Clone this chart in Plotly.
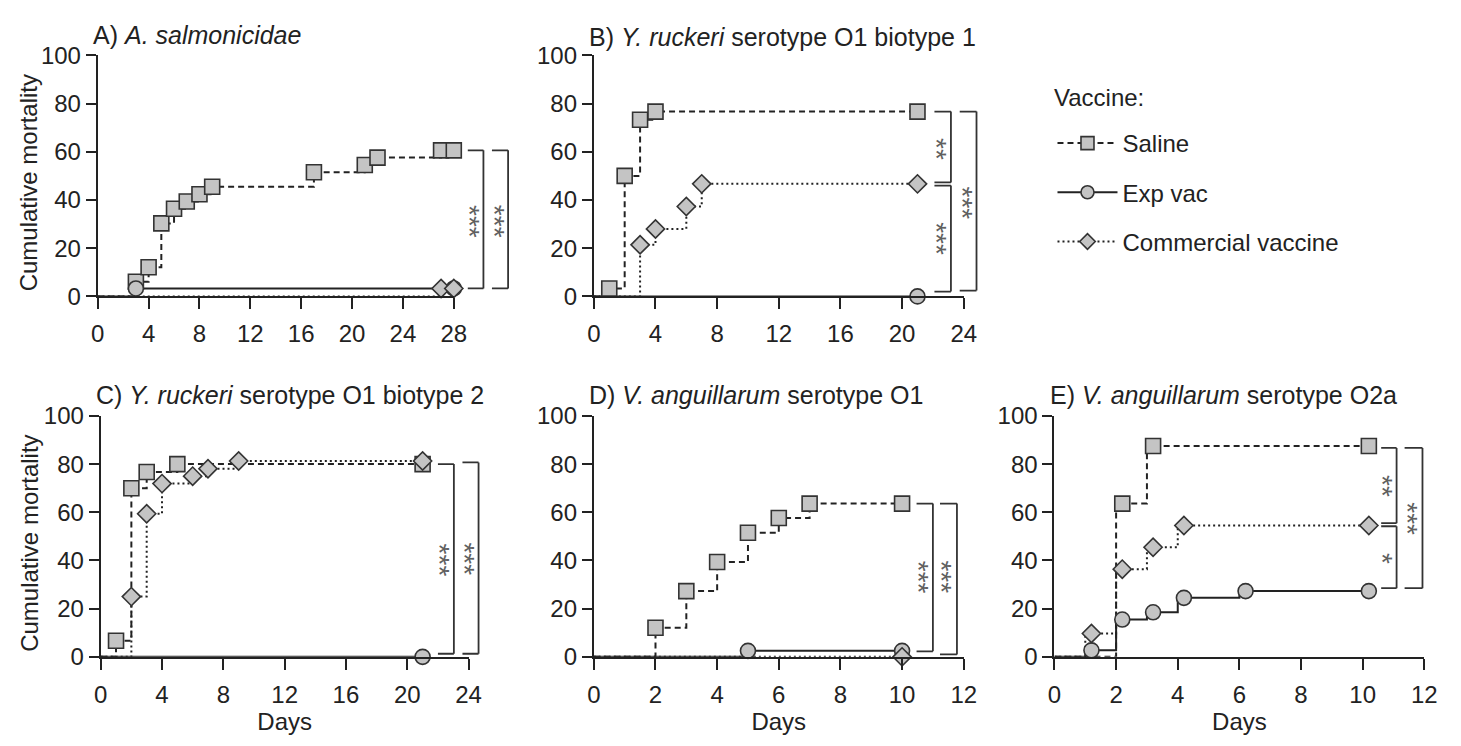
import plotly.graph_objects as go

W, H = 1461, 746
FONT = "Liberation Sans, Arial, sans-serif"
INK = "#222222"

# ---------------- data ----------------
# A) A. salmonicidae
a_saline_days = [3, 4, 5, 6, 7, 8, 9, 17, 21, 22, 27, 28]
a_saline_vals = [6.1, 12.1, 30.3, 36.4, 39.4, 42.4, 45.5, 51.5, 54.5, 57.6, 60.6, 60.6]
a_expvac_days = [3, 28]
a_expvac_vals = [3.3, 3.3]
a_comm_days = [27, 28]
a_comm_vals = [3.3, 3.3]

# B) Y. ruckeri serotype O1 biotype 1
b_saline_days = [1, 2, 3, 4, 21]
b_saline_vals = [3.3, 50.0, 73.3, 76.7, 76.7]
b_expvac_days = [21]
b_expvac_vals = [0]
b_comm_days = [3, 4, 6, 7, 21]
b_comm_vals = [21.4, 28.0, 37.3, 46.7, 46.7]

# C) Y. ruckeri serotype O1 biotype 2
c_saline_days = [1, 2, 3, 5, 21]
c_saline_vals = [6.7, 70.0, 76.7, 80.0, 80.0]
c_expvac_days = [21]
c_expvac_vals = [0]
c_comm_days = [2, 3, 4, 6, 7, 9, 21]
c_comm_vals = [25.0, 59.4, 71.9, 75.0, 78.1, 81.3, 81.3]

# D) V. anguillarum serotype O1
d_saline_days = [2, 3, 4, 5, 6, 7, 10]
d_saline_vals = [12.1, 27.3, 39.4, 51.5, 57.6, 63.6, 63.6]
d_expvac_days = [5, 10]
d_expvac_vals = [2.5, 2.5]
d_comm_days = [10]
d_comm_vals = [0]

# E) V. anguillarum serotype O2a
e_saline_days = [2, 3, 10]
e_saline_vals = [63.6, 87.5, 87.5]
e_expvac_days = [1, 2, 3, 4, 6, 10]
e_expvac_vals = [2.7, 15.5, 18.5, 24.5, 27.3, 27.3]
e_comm_days = [1, 2, 3, 4, 10]
e_comm_vals = [9.7, 36.4, 45.5, 54.5, 54.5]

y_ticks = [0, 20, 40, 60, 80, 100]
series_names = ["Saline", "Exp vac", "Commercial vaccine"]

# ---------------- styles ----------------
FILL = "#c4c4c4"
STYLE = {
    "Saline": dict(dash="6px,4px", symbol="square", size=15),
    "Exp vac": dict(dash="solid", symbol="circle", size=15),
    "Commercial vaccine": dict(dash="2px,3px", symbol="diamond", size=14),
}
STAR_SIZE = 28

def px_x(p):
    return p / W

def px_y(p):
    return 1 - p / H

panels = [
    dict(id="", title="A) <i>A. salmonicidae</i>", tx=85, ty=22,
         xdom=(92, 453), ydom=(43, 293), xmax=28, xstep=4, ylab=True, xlab=False, nudge=0,
         data=[(a_saline_days, a_saline_vals), (a_expvac_days, a_expvac_vals), (a_comm_days, a_comm_vals)],
         brackets=[(30.33, 29.1, 60.6, 3.3, "***", 29.7, 31),
                   (32.27, 31.0, 60.6, 3.3, "***", 31.6, 31)]),
    dict(id="2", title="B) <i>Y. ruckeri</i> serotype O1 biotype 1", tx=588, ty=24,
         xdom=(595, 970), ydom=(43, 293), xmax=24, xstep=4, ylab=False, xlab=False, nudge=0,
         data=[(b_saline_days, b_saline_vals), (b_expvac_days, b_expvac_vals), (b_comm_days, b_comm_vals)],
         brackets=[(23.17, 22.1, 76.7, 47.3, "**", 22.6, 61),
                   (23.17, 22.1, 46.0, 2.0, "***", 22.6, 24),
                   (24.83, 23.74, 76.7, 2.4, "***", 24.3, 38.7)]),
    dict(id="3", title="C) <i>Y. ruckeri</i> serotype O1 biotype 2", tx=88, ty=395,
         xdom=(95, 468), ydom=(417, 667), xmax=24, xstep=4, ylab=True, xlab=True, nudge=0,
         data=[(c_saline_days, c_saline_vals), (c_expvac_days, c_expvac_vals), (c_comm_days, c_comm_vals)],
         brackets=[(23.04, 22.0, 80.0, 1.3, "***", 22.5, 40),
                   (24.65, 23.6, 80.7, 1.3, "***", 24.1, 40.7)]),
    dict(id="4", title="D) <i>V. anguillarum</i> serotype O1", tx=588, ty=395,
         xdom=(595, 970), ydom=(417, 667), xmax=12, xstep=2, ylab=False, xlab=True, nudge=0,
         data=[(d_saline_days, d_saline_vals), (d_expvac_days, d_expvac_vals), (d_comm_days, d_comm_vals)],
         brackets=[(11.0, 10.47, 63.6, 2.3, "***", 10.72, 33),
                   (11.78, 11.23, 63.6, 1.0, "***", 11.48, 33)]),
    dict(id="5", title="E) <i>V. anguillarum</i> serotype O2a", tx=1055, ty=395,
         xdom=(1062, 1437), ydom=(417, 667), xmax=12, xstep=2, ylab=False, xlab=True, nudge=0.2,
         data=[(e_saline_days, e_saline_vals), (e_expvac_days, e_expvac_vals), (e_comm_days, e_comm_vals)],
         brackets=[(11.1, 10.6, 86.7, 55.5, "**", 10.85, 70.8),
                   (11.1, 10.6, 54.2, 28.5, "*", 10.85, 41),
                   (11.94, 11.36, 86.7, 28.5, "***", 11.65, 57.2)]),
]

fig = go.Figure()
layout = dict(
    width=W, height=H, margin=dict(l=0, r=0, t=0, b=0),
    paper_bgcolor="white", plot_bgcolor="white",
    font=dict(family=FONT, size=24, color=INK),
    showlegend=True,
)
shapes = []
annotations = []

for p in panels:
    xa = "x" + p["id"]
    ya = "y" + p["id"]
    xkey = "xaxis" + p["id"]
    ykey = "yaxis" + p["id"]
    layout[xkey] = dict(
        domain=[px_x(p["xdom"][0]), px_x(p["xdom"][1])],
        anchor=ya, range=[0, p["xmax"]],
        tickvals=list(range(0, p["xmax"] + 1, p["xstep"])),
        showline=True, linecolor=INK, linewidth=2,
        ticks="outside", ticklen=11, tickwidth=2, tickcolor=INK,
        showgrid=False, zeroline=False, fixedrange=True,
        tickfont=dict(size=24, color=INK), ticklabelstandoff=4,
    )
    layout[ykey] = dict(
        domain=[px_y(p["ydom"][1]), px_y(p["ydom"][0])],
        anchor=xa, range=[0, 100], tickvals=y_ticks,
        showline=True, linecolor=INK, linewidth=2,
        ticks="outside", ticklen=10, tickwidth=2, tickcolor=INK,
        showgrid=False, zeroline=False, fixedrange=True,
        tickfont=dict(size=24, color=INK),
    )
    if p["xlab"]:
        layout[xkey]["title"] = dict(text="Days", font=dict(size=24, color=INK), standoff=2)
    for name, (days, vals) in zip(series_names, p["data"]):
        st = STYLE[name]
        fig.add_trace(go.Scatter(
            x=[0] + list(days), y=[0] + list(vals), mode="lines", line_shape="hv",
            line=dict(color=INK, width=2, dash=st["dash"]),
            xaxis=xa, yaxis=ya, showlegend=False, hoverinfo="skip",
        ))
    for name, (days, vals) in zip(series_names, p["data"]):
        st = STYLE[name]
        fig.add_trace(go.Scatter(
            x=[d + p["nudge"] for d in days], y=vals, mode="markers",
            marker=dict(symbol=st["symbol"], size=st["size"], color=FILL,
                        line=dict(color="#333333", width=1.6)),
            xaxis=xa, yaxis=ya, showlegend=False, cliponaxis=False,
        ))
    # significance brackets
    for (xv, xarm, yt, yb, lab, lx, ly) in p["brackets"]:
        fx = lambda v: v / p["xmax"]
        for (x0, y0, x1, y1) in [(xarm, yt, xv, yt), (xv, yt, xv, yb), (xarm, yb, xv, yb)]:
            shapes.append(dict(type="line", xref=xa + " domain", yref=ya,
                               x0=fx(x0), y0=y0, x1=fx(x1), y1=y1,
                               line=dict(color="#333333", width=1.8)))
        annotations.append(dict(text=lab, xref=xa + " domain", yref=ya, x=fx(lx), y=ly,
                                showarrow=False, textangle=90, xshift=0.42 * STAR_SIZE,
                                font=dict(size=STAR_SIZE, color="#606060")))
    annotations.append(dict(text=p["title"], xref="paper", yref="paper",
                            x=px_x(p["tx"]), y=px_y(p["ty"]), xanchor="left", yanchor="middle",
                            showarrow=False, font=dict(size=25, color=INK)))
    if p["ylab"]:
        cy = (p["ydom"][0] + p["ydom"][1]) / 2 + 7
        annotations.append(dict(text="Cumulative mortality", xref="paper", yref="paper",
                                x=px_x(22), y=px_y(cy), xanchor="center", yanchor="middle",
                                textangle=-90, showarrow=False, font=dict(size=24, color=INK)))

# legend entries
for i, name in enumerate(series_names):
    st = STYLE[name]
    fig.add_trace(go.Scatter(
        x=[None], y=[None], mode="lines+markers", name=name, legendgroup=name,
        line=dict(color=INK, width=2, dash=st["dash"]),
        marker=dict(symbol=st["symbol"], size=st["size"] - 2, color=FILL,
                    line=dict(color="#333333", width=1.6)),
        xaxis="x", yaxis="y",
    ))

annotations.append(dict(text="Vaccine:", xref="paper", yref="paper",
                        x=px_x(1060), y=px_y(87), xanchor="left", yanchor="middle",
                        showarrow=False, font=dict(size=24, color=INK)))

layout["legend"] = dict(x=px_x(1060), y=px_y(111), xanchor="left", yanchor="top",
                        font=dict(size=24, color=INK), bgcolor="rgba(0,0,0,0)",
                        tracegroupgap=15, itemwidth=60, traceorder="grouped")
layout["shapes"] = shapes
layout["annotations"] = annotations
fig.update_layout(**layout)
fig.write_html("out.html")
